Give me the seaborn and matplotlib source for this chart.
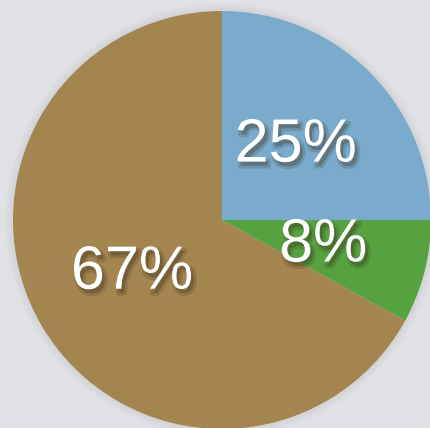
import numpy as np
import matplotlib
matplotlib.use("Agg")
import matplotlib.pyplot as plt
import matplotlib.patheffects as pe
import seaborn as sns

labels = ["Water", "Grass", "Sand"]
values = [25, 8, 67]
colors = ["#7aabcc", "#56a240", "#a4844f"]

sns.set_theme(style="white")
plt.rcParams["font.family"] = ["Liberation Sans", "DejaVu Sans"]

fig = plt.figure(figsize=(4.30, 4.28), dpi=100)
fig.patch.set_facecolor("#dfe1e4")
ax = fig.add_axes([0, 0, 1, 1])
ax.set_facecolor("#dfe1e4")

# soft shadow around the pie
for i, a in enumerate([0.03, 0.04, 0.05]):
    ax.add_patch(plt.Circle((0.0, 0.0), 1.0 + 0.012 * (3 - i), color="#7d8084", alpha=a, lw=0))

wedges, texts, autotexts = ax.pie(
    values, colors=colors, startangle=90, counterclock=False,
    autopct="%d%%", pctdistance=0.5, radius=1.0,
    wedgeprops=dict(linewidth=0),
    textprops=dict(color="white", fontsize=44),
)
for t in autotexts:
    t.set_path_effects([
        pe.SimpleLineShadow(offset=(2, -3), shadow_color="#3a2e1c", alpha=0.18, linewidth=4),
        pe.withSimplePatchShadow(offset=(2, -3), shadow_rgbFace="#3a2e1c", alpha=0.3),
    ])

r = 209.0
ax.set_xlim(-222 / r, 208 / r)
ax.set_ylim(-208 / r, 220 / r)
ax.set_aspect("equal")
ax.axis("off")

fig.savefig("out.png", dpi=100, facecolor=fig.get_facecolor())
